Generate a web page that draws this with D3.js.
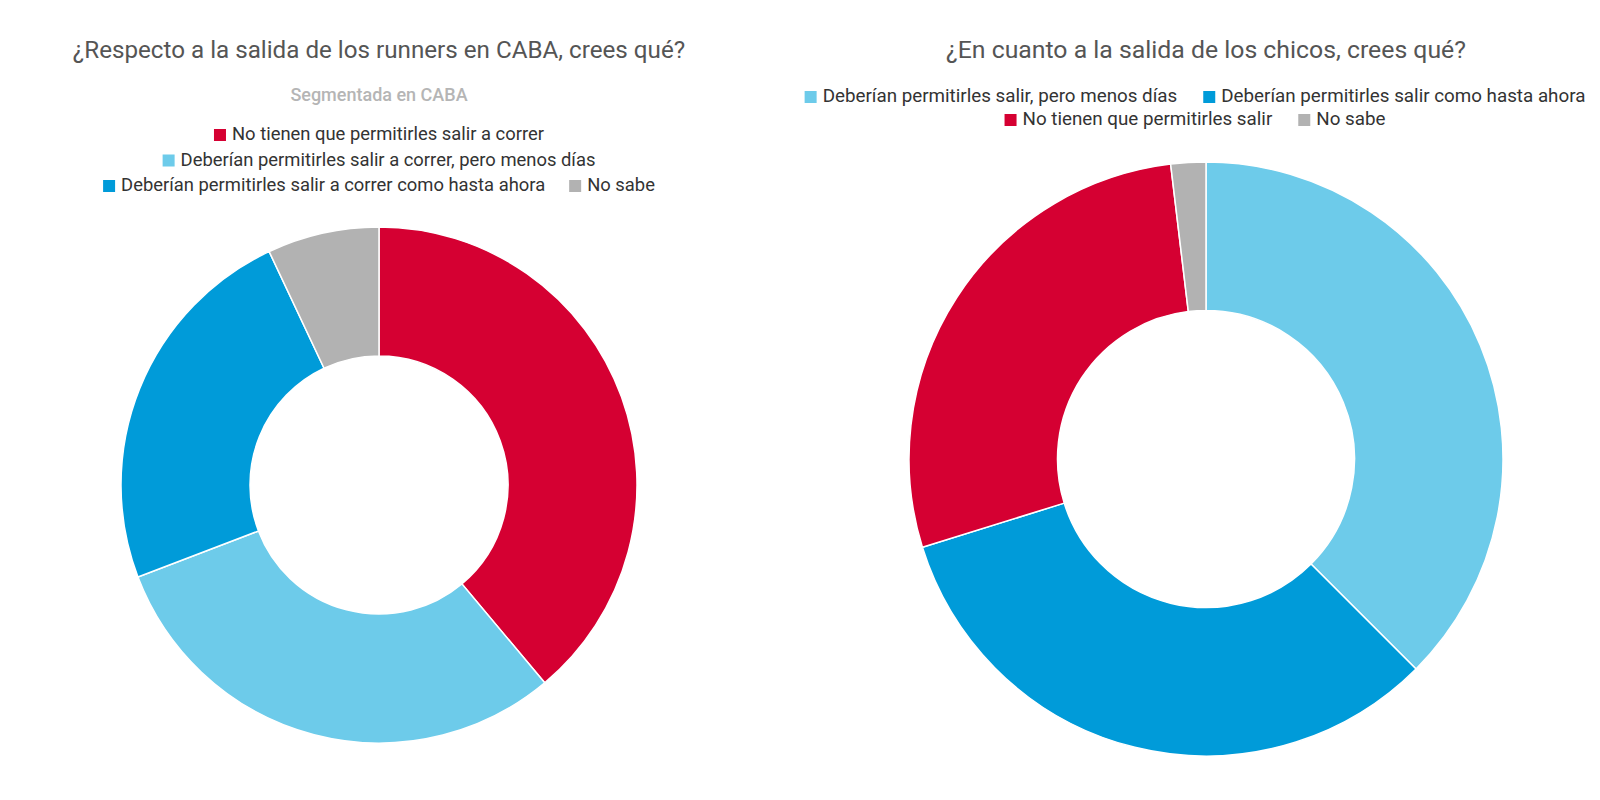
<!DOCTYPE html>
<html>
<head>
<meta charset="utf-8">
<script src="https://cdn.jsdelivr.net/npm/d3@7"></script>
<style>
  body { margin: 0; background: #fff; }
  svg { display: block; font-family: Roboto, 'Noto Sans', sans-serif; }
</style>
</head>
<body>
<div id="chart"></div>
<script>
// ---- data ----
const runnersLabels = [
  'No tienen que permitirles salir a correr',
  'Deberían permitirles salir a correr, pero menos días',
  'Deberían permitirles salir a correr como hasta ahora',
  'No sabe'
]
const runnersValues = [38.9, 30.3, 23.8, 7.0]
const runnersColors = ['#d50032', '#6dcbea', '#009bd9', '#b2b2b2']

const chicosLabels = [
  'Deberían permitirles salir, pero menos días',
  'Deberían permitirles salir como hasta ahora',
  'No tienen que permitirles salir',
  'No sabe'
]
const chicosValues = [37.5, 32.7, 27.9, 1.9]
const chicosColors = ['#6dcbea', '#009bd9', '#d50032', '#b2b2b2']

const width = 1600
const height = 800

const svg = d3.select('#chart')
  .append('svg')
  .attr('width', width)
  .attr('height', height)

function donut(cfg) {
  const g = svg.append('g')

  // title
  g.append('text')
    .attr('x', cfg.cx)
    .attr('y', cfg.titleY)
    .attr('text-anchor', 'middle')
    .style('font-size', cfg.titleSize + 'px')
    .style('fill', '#555')
    .text(cfg.title)

  if (cfg.subtitle) {
    g.append('text')
      .attr('x', cfg.cx)
      .attr('y', cfg.subtitleY)
      .attr('text-anchor', 'middle')
      .style('font-size', '18px')
      .style('font-weight', 500)
      .style('fill', '#b5b5b5')
      .text(cfg.subtitle)
  }

  // legend, row by row, centred
  const box = 12, gapBox = 6
  cfg.rows.forEach((row, ri) => {
    const rowG = g.append('g')
    let x = 0
    row.forEach(i => {
      const item = rowG.append('g').attr('transform', `translate(${x},0)`)
      item.append('rect')
        .attr('x', 0).attr('y', -11)
        .attr('width', box).attr('height', box)
        .attr('fill', cfg.colors[i])
      const t = item.append('text')
        .attr('x', box + gapBox)
        .attr('y', 0)
        .style('font-size', cfg.legendSize + 'px')
        .style('fill', '#333')
        .text(cfg.labels[i])
      x += box + gapBox + t.node().getComputedTextLength() + cfg.gapItem
    })
    x -= cfg.gapItem
    rowG.attr('transform', `translate(${cfg.legendX - x / 2},${cfg.legendY + ri * cfg.legendStep})`)
  })

  // arcs
  const pie = d3.pie().sort(null).value(d => d)
  const arc = d3.arc().innerRadius(cfg.r * 0.5).outerRadius(cfg.r)

  g.append('g')
    .attr('transform', `translate(${cfg.cx},${cfg.cy})`)
    .selectAll('path')
    .data(pie(cfg.values))
    .join('path')
    .attr('d', arc)
    .attr('fill', (d, i) => cfg.colors[i])
    .attr('stroke', '#fff')
    .attr('stroke-width', 1.5)
}

donut({
  title: '¿Respecto a la salida de los runners en CABA, crees qué?',
  subtitle: 'Segmentada en CABA',
  labels: runnersLabels,
  values: runnersValues,
  colors: runnersColors,
  rows: [[0], [1], [2, 3]],
  cx: 379, cy: 485, r: 258,
  titleY: 58, titleSize: 24.2, subtitleY: 101,
  legendX: 379, legendY: 140, legendStep: 25.5, legendSize: 18.4, gapItem: 24
})

donut({
  title: '¿En cuanto a la salida de los chicos, crees qué?',
  labels: chicosLabels,
  values: chicosValues,
  colors: chicosColors,
  rows: [[0, 1], [2, 3]],
  cx: 1206, cy: 459, r: 297,
  titleY: 58, titleSize: 24.8,
  legendX: 1195, legendY: 102, legendStep: 23, legendSize: 18.8, gapItem: 26
})
</script>
</body>
</html>
